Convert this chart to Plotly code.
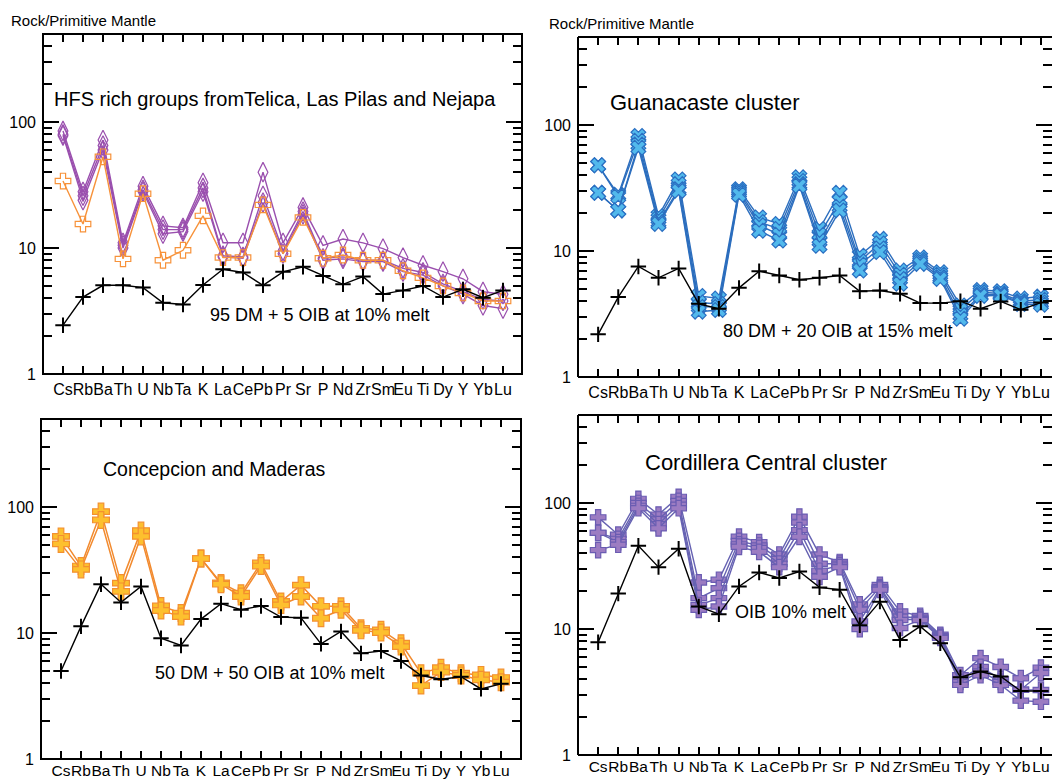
import plotly.graph_objects as go

W, H = 1052, 780

elements = ["Cs", "Rb", "Ba", "Th", "U", "Nb", "Ta", "K", "La", "Ce", "Pb", "Pr", "Sr",
            "P", "Nd", "Zr", "Sm", "Eu", "Ti", "Dy", "Y", "Yb", "Lu"]

# Panel 1: HFS rich groups
hfs_model = [2.44, 4.08, 5.06, 5.06, 4.85, 3.68, 3.56, 5.09, 6.79, 6.39, 5.06, 6.47, 7.09,
             6.01, 5.15, 5.93, 4.31, 4.61, 5.0, 4.08, 4.7, 4.03, 4.61]
hfs_purple_a = [85, 28, 72, 11, 31, 15, 14.5, 33, 11, 11, 40, 11, 21,
                10.5, 11.8, 11.0, 9.9, 8.4, 7.3, 6.5, 5.7, 4.5, 4.3]
hfs_purple_b = [80, 26, 65, 10.5, 29, 14, 14, 30, 8.7, 8.5, 26, 9.5, 19.5,
                8.3, 8.5, 8.0, 8.0, 6.9, 6.4, 5.2, 4.5, 3.9, 3.8]
hfs_purple_c = [78, 24, 60, 10, 28, 13, 13.5, 28, 8.5, 8.3, 23, 9, 18.5,
                8.0, 8.2, 7.8, 7.8, 6.5, 6.1, 5.0, 4.3, 3.5, 3.3]
hfs_orange = [34, 15.5, 53, 8.2, 27, 8.0, 9.6, 18, 8.4, 8.4, 22, 9, 17.5,
              8.3, 8.8, 8.0, 8.0, 6.6, 5.8, 5.0, 4.4, 3.8, 3.8]

# Panel 2: Guanacaste cluster
gua_model = [2.18, 4.31, 7.54, 6.13, 7.27, 3.81, 3.48, 5.1, 6.92, 6.4, 5.91, 6.13, 6.4,
             4.8, 4.86, 4.58, 3.86, 3.86, 4.0, 3.48, 3.98, 3.42, 3.9]
gua_a = [48, 28, 82, 19, 37, 4.4, 4.2, 31, 18.5, 16.4, 38.5, 15, 29,
         9.2, 12.5, 7.0, 8.9, 6.8, 3.7, 4.9, 4.8, 4.2, 4.35]
gua_b = [48, 27, 75, 18, 34, 3.9, 3.8, 30, 17, 15, 36, 13.5, 25,
         8.3, 11.5, 6.5, 8.5, 6.5, 3.4, 4.7, 4.6, 4.0, 4.1]
gua_c = [29, 21, 70, 17, 31, 3.6, 3.6, 29, 16, 13.5, 34, 12, 22.5,
         7.8, 10.5, 6.0, 8.2, 6.2, 3.1, 4.5, 4.5, 3.9, 3.9]
gua_d = [29, 21, 66, 16.4, 30, 3.3, 3.4, 28, 14.5, 12.1, 33, 11, 21,
         7.0, 9.8, 5.5, 7.9, 6.0, 2.9, 4.4, 4.45, 3.8, 3.75]

# Panel 3: Concepcion and Maderas
con_model = [5.0, 11.3, 24.4, 17.5, 23.4, 9.1, 7.96, 12.9, 17.1, 15.3, 16.4, 13.4, 13.2,
             8.2, 10.3, 6.9, 7.2, 6.0, 4.6, 4.3, 4.5, 3.6, 3.95]
con_a = [58.5, 34, 92, 24.9, 65, 16.4, 14.4, 39, 25, 20.7, 36, 17.8, 24,
         16.3, 16.3, 10.9, 10.6, 8.3, 4.8, 5.3, 4.8, 4.65, 4.43]
con_b = [51, 32, 79, 21.4, 58.5, 15.1, 13.5, 39, 24.4, 19.5, 34, 16.7, 19.5,
         13.1, 15.3, 10.5, 10.1, 7.8, 3.83, 4.9, 4.6, 4.25, 4.07]

# Panel 4: Cordillera Central cluster
cor_model = [7.86, 19.1, 45.8, 31, 43.4, 15.1, 13.1, 21.8, 28.1, 25.4, 28.6, 21.4, 20.5,
             10.7, 16.5, 8.2, 10.5, 7.7, 4.14, 4.6, 4.2, 3.22, 3.22]
cor_a = [77, 56, 108, 81, 112, 23.4, 24.6, 54, 49, 39, 78, 39, 34,
         15.7, 22.4, 13.8, 12.7, 9.0, 4.3, 5.87, 5.0, 4.07, 4.94]
cor_b = [58, 52, 100, 74, 104, 17.6, 21.1, 50, 46, 36, 70, 33, 33,
         14.2, 21.5, 12.5, 12.3, 8.8, 4.0, 5.0, 4.0, 3.3, 4.47]
cor_c = [58, 49, 95, 68, 97, 15.5, 17.6, 47, 44, 33, 61, 29, 32,
         11.5, 21, 11.8, 12.0, 8.6, 3.8, 4.6, 3.8, 3.3, 3.28]
cor_d = [42.3, 46.7, 91, 63, 91, 14.2, 15.1, 45, 41, 31, 54, 26, 31,
         10, 20.5, 10.2, 11.8, 8.5, 3.6, 4.3, 3.6, 2.7, 2.65]

ytick_vals = [1, 10, 100]
ytick_text = ["1", "10", "100"]
minor_vals = [2, 3, 4, 5, 6, 7, 8, 9, 20, 30, 40, 50, 60, 70, 80, 90, 200, 300, 400]

FONT = "Liberation Sans, Arial, sans-serif"
xidx = list(range(len(elements)))

fig = go.Figure()

# panel boxes in pixels: (left, right, top, bottom, xrange_max, label standoff, label size)
panels = [
    (43, 522, 34, 374, 22.95, 4, 16),
    (578, 1052, 37, 377, 22.55, 4, 16),
    (41, 521, 419, 759, 23.0, 0, 15.5),
    (578, 1052, 415, 755, 22.55, 0, 15.5),
]


def add_line(k, vals, color, symbol, size, mfill, mline, mlw=1.0, lw=1.5):
    xa = "x" if k == 1 else f"x{k}"
    ya = "y" if k == 1 else f"y{k}"
    fig.add_trace(go.Scatter(
        x=xidx, y=vals, xaxis=xa, yaxis=ya, mode="lines+markers",
        line=dict(color=color, width=lw),
        marker=dict(symbol=symbol, size=size, color=mfill,
                    line=dict(color=mline, width=mlw)),
        showlegend=False, hoverinfo="skip"))


PURPLE = "#9a4fae"
ORANGE1 = "#f7923a"
for v in [hfs_purple_a, hfs_purple_b, hfs_purple_c]:
    add_line(1, v, PURPLE, "diamond-tall-open", 14, PURPLE, PURPLE, 1.2, 1.4)
add_line(1, hfs_orange, ORANGE1, "cross-open", 13, ORANGE1, ORANGE1, 1.2, 1.4)

BLUE_L = "#2c6ebe"
for v in [gua_a, gua_b, gua_c, gua_d]:
    add_line(2, v, BLUE_L, "x", 13, "#52b9ec", "#2a6fc2", 1.2, 1.4)

OR_L = "#f28a2e"
for v in [con_a, con_b]:
    add_line(3, v, OR_L, "cross", 14, "#fdc02e", "#f39030", 1.2, 1.5)

PL = "#6662b2"
for v in [cor_a, cor_b, cor_c, cor_d]:
    add_line(4, v, PL, "cross", 13, "#9c7cc2", "#6a5cb2", 1.2, 1.4)

for k, v in [(1, hfs_model), (2, gua_model), (3, con_model), (4, cor_model)]:
    add_line(k, v, "black", "cross-thin", 11, "black", "black", 2.0, 1.4)

layout = dict(width=W, height=H, margin=dict(l=0, r=0, t=0, b=0, autoexpand=False),
              paper_bgcolor="white", plot_bgcolor="white", showlegend=False,
              font=dict(family=FONT, color="black"))
shapes = []
for k, (L, R, T, B, xmax, stand, lsize) in enumerate(panels, start=1):
    sx = "xaxis" if k == 1 else f"xaxis{k}"
    sy = "yaxis" if k == 1 else f"yaxis{k}"
    yid = "y" if k == 1 else f"y{k}"
    xid = "x" if k == 1 else f"x{k}"
    layout[sx] = dict(
        domain=[L / W, R / W], anchor=yid, range=[-1, xmax], automargin=False,
        tickmode="array", tickvals=xidx, ticktext=elements, tickangle=0,
        ticks="inside", ticklen=8, tickwidth=1.5, tickcolor="black",
        showline=False, mirror="ticks", showgrid=False, zeroline=False,
        tickfont=dict(size=lsize, family=FONT, color="black"), ticklabelstandoff=stand,
        fixedrange=True)
    layout[sy] = dict(
        domain=[1 - B / H, 1 - T / H], anchor=xid, type="log", automargin=False,
        range=[0, 2.69897], tickmode="array", tickvals=ytick_vals, ticktext=ytick_text,
        ticks="inside", ticklen=16, tickwidth=1.5, tickcolor="black",
        minor=dict(tickmode="array", tickvals=minor_vals, ticks="inside", ticklen=9,
                   tickwidth=1.5, tickcolor="black", showgrid=False),
        showline=False, mirror="ticks", showgrid=False, zeroline=False,
        tickfont=dict(size=16, family=FONT, color="black"), ticklabelstandoff=6,
        fixedrange=True)
    lw = 2
    if R < W:
        shapes.append(dict(type="rect", xref="paper", yref="paper",
                           x0=L / W, x1=R / W, y0=1 - B / H, y1=1 - T / H,
                           line=dict(color="black", width=lw)))
    else:
        for (x0, y0, x1, y1) in [(L, T, L, B), (L, T, R + 5, T), (L, B, R + 5, B)]:
            shapes.append(dict(type="line", xref="paper", yref="paper",
                               x0=x0 / W, x1=x1 / W, y0=1 - y0 / H, y1=1 - y1 / H,
                               line=dict(color="black", width=lw)))
layout["shapes"] = shapes


def ann(text, x, y, size):
    return dict(text=text, xref="paper", yref="paper", x=x / W, y=1 - y / H,
                xanchor="left", yanchor="middle", showarrow=False,
                font=dict(size=size, family=FONT, color="black"))


layout["annotations"] = [
    ann("Rock/Primitive Mantle", 9, 20, 15),
    ann("Rock/Primitive Mantle", 547, 23, 15),
    ann("HFS rich groups fromTelica, Las Pilas and Nejapa", 52, 99, 20),
    ann("Guanacaste cluster", 608, 103, 22),
    ann("Concepcion and Maderas", 101, 469, 19.5),
    ann("Cordillera Central cluster", 643, 462, 22),
    ann("95 DM + 5 OIB at 10% melt", 208, 315, 18),
    ann("80 DM + 20 OIB at 15% melt", 721, 331, 18),
    ann("50 DM + 50 OIB at 10% melt", 153, 673, 18),
    ann("OIB 10% melt", 733, 612, 18),
]
fig.update_layout(**layout)
fig.write_html("out.html")
